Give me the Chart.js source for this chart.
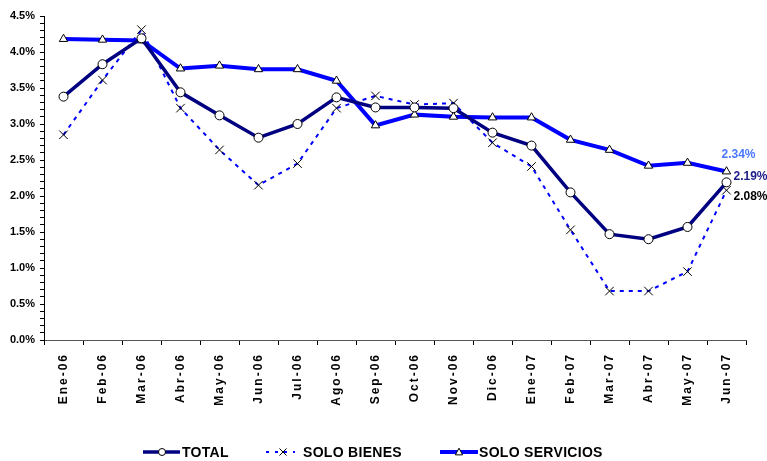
<!DOCTYPE html>
<html>
<head>
<meta charset="utf-8">
<script src="https://cdn.jsdelivr.net/npm/chart.js@4/dist/chart.umd.min.js"></script>
<style>
html,body{margin:0;padding:0;background:#fff;}
#wrap{width:767px;height:461px;position:relative;}
</style>
</head>
<body>
<div id="wrap"><canvas id="c" width="767" height="461"></canvas></div>
<script>
const categories = ['Ene-06','Feb-06','Mar-06','Abr-06','May-06','Jun-06','Jul-06','Ago-06','Sep-06','Oct-06','Nov-06','Dic-06','Ene-07','Feb-07','Mar-07','Abr-07','May-07','Jun-07'];
const total     = [3.38,3.83,4.19,3.44,3.12,2.81,3.00,3.37,3.23,3.23,3.22,2.88,2.70,2.05,1.47,1.40,1.57,2.19];
const bienes    = [2.85,3.61,4.31,3.22,2.64,2.15,2.45,3.22,3.39,3.27,3.29,2.74,2.41,1.53,0.68,0.68,0.95,2.08];
const servicios = [4.18,4.17,4.16,3.77,3.81,3.76,3.76,3.60,2.98,3.13,3.10,3.09,3.09,2.78,2.64,2.42,2.46,2.34];
const seriesNames = ['TOTAL','SOLO BIENES','SOLO SERVICIOS'];
const yMin = 0, yMax = 4.5, yMinorStep = 0.1, yLabelStep = 0.5;

const FONT = "'Liberation Sans', Arial, sans-serif";

function drawMarker(ctx, style, x, y, r) {
  ctx.save();
  ctx.lineWidth = 1;
  ctx.strokeStyle = '#000';
  ctx.fillStyle = '#fff';
  ctx.beginPath();
  if (style === 'circle') {
    ctx.arc(x, y, r, 0, Math.PI * 2);
    ctx.fill(); ctx.stroke();
  } else if (style === 'triangle') {
    ctx.moveTo(x, y - r);
    ctx.lineTo(x + r * 0.95, y + r * 0.75);
    ctx.lineTo(x - r * 0.95, y + r * 0.75);
    ctx.closePath();
    ctx.fill(); ctx.stroke();
  } else if (style === 'crossRot') {
    const d = r * 0.707;
    ctx.moveTo(x - d, y - d); ctx.lineTo(x + d, y + d);
    ctx.moveTo(x + d, y - d); ctx.lineTo(x - d, y + d);
    ctx.stroke();
  }
  ctx.restore();
}

const extras = {
  id: 'extras',
  beforeDraw(chart) {
    const xs = chart.scales.x;
    if (!xs._spacedPatched) {
      const orig = xs.drawLabels;
      xs.drawLabels = function (ca) {
        const ctx = this.ctx;
        ctx.save();
        ctx.letterSpacing = '2px';
        orig.call(this, ca);
        ctx.restore();
      };
      xs._spacedPatched = true;
    }
  },
  afterDraw(chart) {
    const ctx = chart.ctx;
    const xs = chart.scales.x, ys = chart.scales.y;
    const last = categories.length - 1;
    const px = xs.getPixelForValue(last);
    ctx.save();
    ctx.font = 'bold 12px ' + FONT;
    ctx.textBaseline = 'middle';
    // end labels
    ctx.fillStyle = '#4a78ff';
    ctx.textAlign = 'center';
    ctx.fillText(servicios[last].toFixed(2) + '%', px + 12, ys.getPixelForValue(servicios[last]) - 17);
    ctx.textAlign = 'left';
    ctx.fillStyle = '#1c1c8a';
    ctx.fillText(total[last].toFixed(2) + '%', px + 7, ys.getPixelForValue(total[last]) - 6);
    ctx.fillStyle = '#000';
    ctx.fillText(bienes[last].toFixed(2) + '%', px + 7, ys.getPixelForValue(bienes[last]) + 6);

    // legend
    const ly = 452;
    ctx.font = 'bold 14px ' + FONT;
    ctx.letterSpacing = '0.3px';
    ctx.fillStyle = '#000';
    // TOTAL
    ctx.lineWidth = 3.5; ctx.strokeStyle = '#000080';
    ctx.beginPath(); ctx.moveTo(143, ly); ctx.lineTo(180, ly); ctx.stroke();
    drawMarker(ctx, 'circle', 162, ly, 3.5);
    ctx.fillText(seriesNames[0], 182, ly + 1);
    // SOLO BIENES
    ctx.lineWidth = 2; ctx.strokeStyle = '#0000ff';
    ctx.setLineDash([3, 6]);
    ctx.beginPath(); ctx.moveTo(266, ly); ctx.lineTo(295, ly); ctx.stroke();
    ctx.setLineDash([]);
    drawMarker(ctx, 'crossRot', 283, ly, 5);
    ctx.fillText(seriesNames[1], 303, ly + 1);
    // SOLO SERVICIOS
    ctx.lineWidth = 4; ctx.strokeStyle = '#0000ff';
    ctx.beginPath(); ctx.moveTo(440, ly); ctx.lineTo(478, ly); ctx.stroke();
    drawMarker(ctx, 'triangle', 459, ly, 3.8);
    ctx.fillText(seriesNames[2], 479, ly + 1);
    ctx.restore();
  }
};

new Chart(document.getElementById('c'), {
  type: 'line',
  data: {
    labels: categories,
    datasets: [
      {
        label: seriesNames[0], data: total, order: 1,
        borderColor: '#000080', borderWidth: 3.5,
        pointStyle: 'circle', pointRadius: 4.5, pointBorderWidth: 1,
        pointBackgroundColor: '#fff', pointBorderColor: '#000',
        tension: 0
      },
      {
        label: seriesNames[1], data: bienes, order: 3,
        borderColor: '#0000ff', borderWidth: 2, borderDash: [4, 5],
        pointStyle: 'crossRot', pointRadius: 6, pointBorderWidth: 1,
        pointBackgroundColor: '#000', pointBorderColor: '#000',
        tension: 0
      },
      {
        label: seriesNames[2], data: servicios, order: 2,
        borderColor: '#0000ff', borderWidth: 4,
        pointStyle: 'triangle', pointRadius: 4.8, pointBorderWidth: 1,
        pointBackgroundColor: '#fff', pointBorderColor: '#000',
        tension: 0
      }
    ]
  },
  options: {
    responsive: false,
    animation: false,
    layout: { padding: { left: 0, right: 21, top: 16, bottom: 0 } },
    plugins: { legend: { display: false }, tooltip: { enabled: false } },
    scales: {
      x: {
        offset: true,
        grid: { offset: true, drawOnChartArea: false, drawTicks: true, tickLength: 5, color: '#000' },
        border: { display: true, color: '#555', width: 1 },
        ticks: {
          autoSkip: false, maxRotation: 90, minRotation: 90, padding: 8,
          color: '#000', font: { family: FONT, size: 12, weight: 'bold' }
        },
        afterFit(scale) { scale.height = 121; }
      },
      y: {
        min: yMin, max: yMax,
        grid: { drawOnChartArea: false, drawTicks: true, tickLength: 4, color: '#000' },
        border: { display: true, color: '#000', width: 1 },
        ticks: {
          stepSize: yMinorStep, autoSkip: false, padding: 5,
          color: '#000', font: { family: FONT, size: 11, weight: 'bold' },
          callback(v) {
            const k = v / yLabelStep;
            return Math.abs(k - Math.round(k)) < 1e-6 ? v.toFixed(1) + '%' : '';
          }
        },
        afterFit(scale) { scale.width = 44; }
      }
    }
  },
  plugins: [extras]
});
</script>
</body>
</html>
